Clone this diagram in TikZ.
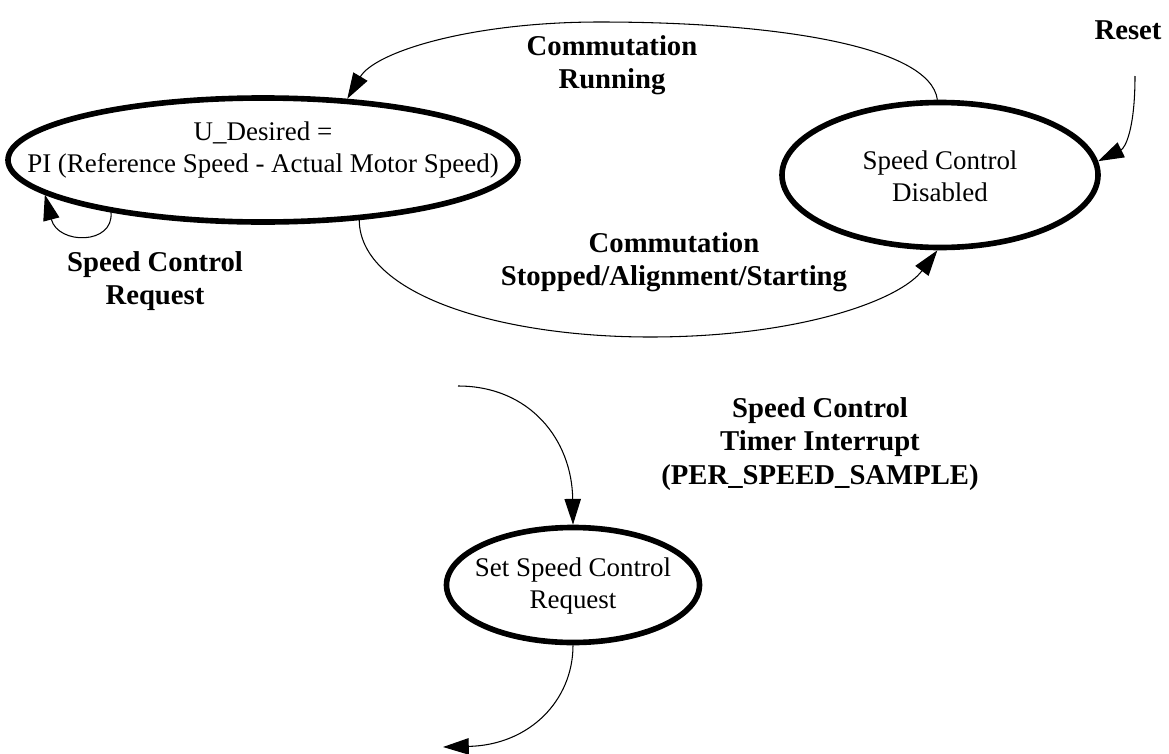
\documentclass[tikz,border=0pt]{standalone}
\usepackage{fontspec}
\setmainfont{Liberation Serif}
\usetikzlibrary{arrows.meta,shapes.geometric}

\begin{document}
\begin{tikzpicture}[
  x=0.03cm, y=-0.03cm,
  font=\fontsize{23}{27}\selectfont,
  state/.style={draw, ellipse, line width=4.8pt, inner sep=0pt},
  statetext/.style={align=center},
  wire/.style={-{Triangle[length=22pt, width=14pt]}, line width=0.9pt},
  note/.style={align=center, font=\fontsize{24.5}{28.5}\selectfont\bfseries}
]
\useasboundingbox (0,0) rectangle (1169,754);

\node[state, minimum width=15.3cm, minimum height=3.72cm] (pictl) at (263,160) {};
\node[statetext] (pictltext) at (263,150) {U\_Desired =\\PI (Reference Speed - Actual Motor Speed)};
\node[state, minimum width=9.48cm, minimum height=4.35cm] (disabled) at (940,175) {};
\node[statetext] (disabledtext) at (940,176) {Speed Control\\Disabled};
\node[state, minimum width=7.59cm, minimum height=3.45cm] (setreq) at (573,585) {};
\node[statetext] (setreqtext) at (573,586) {Set Speed Control\\Request};

\node[note] (runlbl) at (612,65) {Commutation\\Running};
\node[note] (resetlbl) at (1128,30) {Reset};
\node[note] (reqlbl) at (155,281) {Speed Control\\Request};
\node[note] (stoplbl) at (674,262) {Commutation\\Stopped/Alignment/Starting};
\node[note] (timerlbl) at (820,444) {Speed Control\\Timer Interrupt\\(PER\_SPEED\_SAMPLE)};

\coordinate (resetin) at (1135,76);
\coordinate (timerin) at (458,386);
\coordinate (outend) at (443,747);

\draw[wire] (disabled.92) .. controls (930,45) and (770,22) .. (600,22) .. controls (470,22) and (375,52) .. (pictl.36);
\draw[wire] (resetin) .. controls (1135,130) and (1125,148) .. (disabled.5);
\draw[wire] (pictl.199) .. controls (114,245) and (58,245) .. (pictl.189);
\draw[wire] (pictl.-32) .. controls (360,295) and (500,337) .. (650,337) .. controls (800,337) and (900,300) .. (disabled.-92);
\draw[wire] (timerin) .. controls (530,386) and (572,440) .. (setreq.north);
\draw[wire] (setreq.south) .. controls (573,700) and (530,745) .. (outend);

\end{tikzpicture}
\end{document}
